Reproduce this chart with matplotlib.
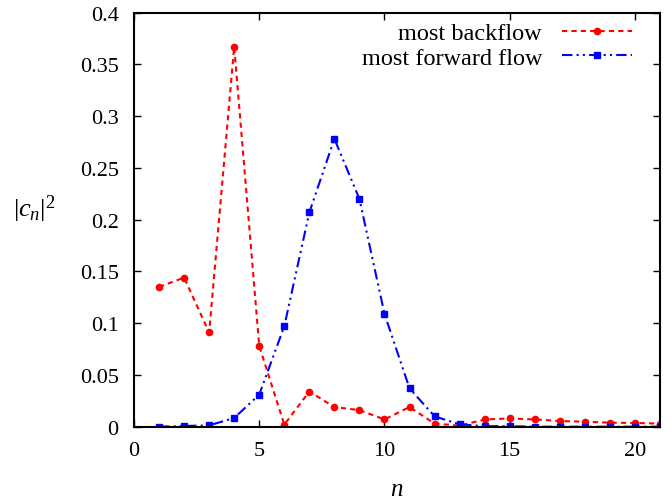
import matplotlib
matplotlib.use("Agg")
import matplotlib.pyplot as plt
import numpy as np

n = np.arange(1, 22)
backflow = [0.135, 0.144, 0.091, 0.367, 0.078, 0.002, 0.034, 0.019, 0.016, 0.007,
            0.019, 0.003, 0.001, 0.007, 0.008, 0.007, 0.0055, 0.0048, 0.0039, 0.0036, 0.003]
forward = [0.0, 0.0007, 0.0013, 0.0084, 0.031, 0.097, 0.207, 0.278, 0.220, 0.109,
           0.037, 0.010, 0.0023, 0.0005, 0.0005, 0.0, 0.0, 0.0, 0.0, 0.0, 0.0]

xticks = [0, 5, 10, 15, 20]
yticks = [0, 0.05, 0.1, 0.15, 0.2, 0.25, 0.3, 0.35, 0.4]
ytick_labels = ['0', '0.05', '0.1', '0.15', '0.2', '0.25', '0.3', '0.35', '0.4']

plt.rcParams['font.family'] = ['Liberation Serif', 'DejaVu Serif']
plt.rcParams['mathtext.fontset'] = 'custom'
plt.rcParams['mathtext.rm'] = 'Liberation Serif'
plt.rcParams['mathtext.it'] = 'Liberation Serif:italic'

fig = plt.figure(figsize=(6.71, 5.02), dpi=100)
ax = fig.add_axes([0.1997, 0.148, 0.7839, 0.825])

ax.plot(n, backflow, color='red', lw=1.5, dashes=(2.5, 2), marker='o', ms=4.5,
        label='most backflow')
ax.plot(n, forward, color='blue', lw=1.5, dashes=(5, 2, 1, 2, 1, 2), marker='s', ms=4.5,
        label='most forward flow')

ax.set_xlim(0, 21)
ax.set_ylim(0, 0.4)
ax.set_xticks(xticks)
ax.set_yticks(yticks)
ax.set_yticklabels(ytick_labels)
ax.tick_params(direction='in', top=True, right=True, length=5, width=1,
               labelsize=16)
ax.tick_params(axis='x', pad=10)
ax.tick_params(axis='y', pad=11)
for s in ax.spines.values():
    s.set_linewidth(1.5)

ax.set_xlabel('$n$', fontsize=18, va='center')
ax.xaxis.set_label_coords(0.5, -0.15)
ax.set_ylabel('$|c_n|^2$', fontsize=19, rotation=0)
ax.yaxis.set_label_coords(-0.19, 0.49)

leg = ax.legend(loc='upper right', bbox_to_anchor=(0.956, 0.988), frameon=False,
                markerfirst=False, fontsize=17.5, handlelength=2.9, borderaxespad=0,
                borderpad=0.2, labelspacing=0.1, handletextpad=0.8)
for t in leg.get_texts():
    t.set_ha('right')
leg._legend_box.align = 'right'

fig.savefig('out.png', dpi=100)
